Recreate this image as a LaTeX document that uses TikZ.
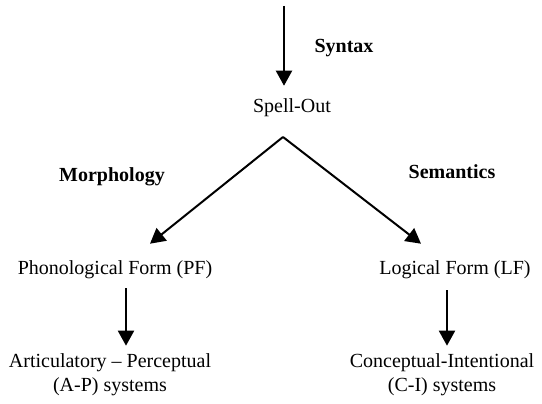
\documentclass[tikz,border=0pt]{standalone}
\usepackage{fontspec}
\setmainfont{Liberation Serif}
\usetikzlibrary{arrows.meta}

\begin{document}
\begin{tikzpicture}[x=1pt, y=-1pt,
    txt/.style={font=\fontsize{20}{24}\selectfont, align=center, inner sep=1pt},
    lbl/.style={font=\fontsize{20}{24}\selectfont\bfseries, inner sep=1pt},
    arr/.style={line width=2pt, -{Triangle[length=15pt, width=16pt]}}]
    \useasboundingbox (0, 0) rectangle (542, 404);

    % Spell-Out und Syntax
    \coordinate (top) at (284, 6);
    \node[txt] (spell) at (292, 108) {Spell-Out};
    \node[lbl] (syntax) at (344, 48) {Syntax};
    \draw[arr] (top) -- ([xshift=-8pt, yshift=12pt]spell.north);

    % Verzweigung
    \coordinate (split) at (283, 137);
    \node[lbl] (morph) at (112, 177) {Morphology};
    \node[lbl] (sem) at (452, 172) {Semantics};

    % PF und LF
    \node[txt] (pf) at (115, 270) {Phonological Form (PF)};
    \node[txt] (lf) at (455, 270) {Logical Form (LF)};
    \draw[arr] (split) -- ([xshift=35pt, yshift=16pt]pf.north);
    \draw[arr] (split) -- ([xshift=-34pt, yshift=16pt]lf.north);

    % Schnittstellen
    \node[txt] (ap) at (110, 375) {Articulatory -- Perceptual\\(A-P) systems};
    \node[txt] (ci) at (442, 375) {Conceptual-Intentional\\(C-I) systems};
    \draw[arr] ([xshift=11pt, yshift=-8pt]pf.south) -- ([xshift=16pt, yshift=7pt]ap.north);
    \draw[arr] ([xshift=-8pt, yshift=-10pt]lf.south) -- ([xshift=5pt, yshift=7pt]ci.north);
\end{tikzpicture}
\end{document}
